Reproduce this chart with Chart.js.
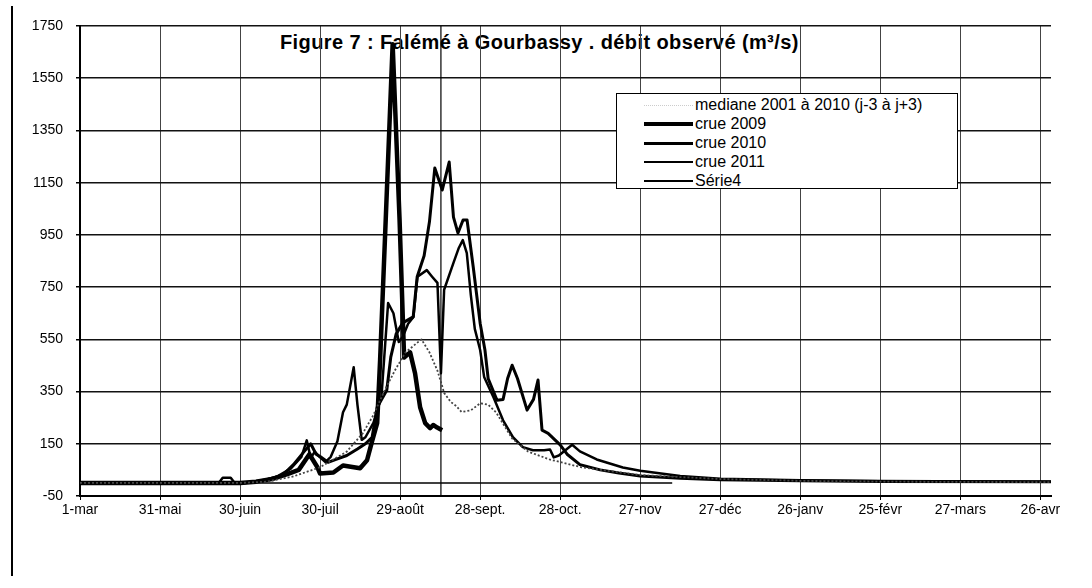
<!DOCTYPE html>
<html lang="fr">

<head>
    <meta charset="UTF-8">
    <title>Figure 7 : Falémé à Gourbassy</title>
    <script src="https://cdn.jsdelivr.net/npm/chart.js"></script>
    <style>
        body { margin: 0; background: #fff; }
        .janela { position: relative; width: 1092px; height: 588px; overflow: hidden; font-family: "Liberation Sans", Arial, sans-serif; }
        .borda { position: absolute; left: 11px; top: 6px; width: 2px; height: 570px; background: #000; }
        #titre { position: absolute; left: 280px; top: 32px; font-size: 20px; line-height: 20px; letter-spacing: 0.4px; font-weight: bold; white-space: nowrap; z-index: 0; }
        #grafico { position: absolute; left: 0; top: 0; z-index: 1; }
        .legende { position: absolute; left: 616px; top: 93px; width: 340px; height: 94px; border: 1.5px solid #000; background: #fff; z-index: 2; }
        .ligne { position: absolute; left: 0; height: 18px; display: flex; align-items: center; font-size: 16px; white-space: nowrap; }
        .trait { display: inline-block; width: 49px; margin-left: 27px; margin-right: 2px; border-top-style: solid; border-top-color: #000; }
    </style>
</head>

<body>
    <div class="janela">
        <div class="borda"></div>
        <div id="titre">Figure 7 : Falémé à Gourbassy . débit observé (m³/s)</div>
        <canvas id="grafico" width="1092" height="588"></canvas>

        <div class="legende">
            <div class="ligne" style="top:2px"><span class="trait" style="border-top:1px dotted #ccc"></span>mediane 2001 à 2010 (j-3 à j+3)</div>
            <div class="ligne" style="top:21px"><span class="trait" style="border-top-width:4px"></span>crue 2009</div>
            <div class="ligne" style="top:40px"><span class="trait" style="border-top-width:3px"></span>crue 2010</div>
            <div class="ligne" style="top:59px"><span class="trait" style="border-top-width:2px"></span>crue 2011</div>
            <div class="ligne" style="top:78px"><span class="trait" style="border-top-width:2.5px"></span>Série4</div>
        </div>
    </div>
</body>

<script>
    // eixo x: dias a partir do 1-mar, um rotulo a cada 30 dias
    const etiquettesX = ['1-mar', '31-mai', '30-juin', '30-juil', '29-août', '28-sept.', '28-oct.', '27-nov', '27-déc', '26-janv', '25-févr', '27-mars', '26-avr'];
    const graduationsY = [-50, 150, 350, 550, 750, 950, 1150, 1350, 1550, 1750];

    // mediane 2001 a 2010
    const joursMediane = [0, 60, 70, 80, 90, 100, 106, 110, 114, 118, 122, 128, 131, 134, 135.5, 136.5, 139, 141, 143, 146.5, 150, 153, 156, 159, 162, 168, 176, 188, 210, 240, 270, 300, 364];
    const debitMediane = [0, 0, 5, 25, 60, 120, 190, 260, 350, 430, 500, 550, 500, 430, 380, 345, 310, 295, 272, 278, 305, 300, 270, 220, 170, 120, 90, 60, 30, 15, 8, 5, 3];

    // crue 2009 (trait epais, s'arrete au trait vertical)
    const jours2009 = [0, 60, 66, 72, 78, 82, 86, 89, 90, 95, 98.6, 105, 107.6, 109.5, 111.4, 112.5, 114.6, 117.2, 119.8, 121.5, 123.75, 125.6, 127.5, 129.4, 131.25, 132.4, 133.9, 135.75];
    const debit2009 = [0, 0, 5, 15, 35, 50, 110, 60, 36, 40, 67, 56, 87, 160, 229, 470, 1007, 1680, 1007, 480, 500, 420, 290, 229, 210, 222, 212, 202];

    // crue 2010
    const jours2010 = [0, 60, 64, 70, 76, 80, 84, 86.5, 88.5, 90.5, 93, 96, 100, 104, 107, 109.5, 111.4, 115, 116.5, 118.5, 121, 124.9, 126.4, 129, 131, 133, 135.8, 138.4, 140, 141.7, 143.6, 145.1, 147.4, 150, 151.8, 153, 156.3, 158.6, 160.3, 162, 164, 167.6, 170, 171.7, 173.2, 175.5, 180, 182.6, 187.4, 195, 202, 210, 225, 240, 270, 300, 364];
    const debit2010 = [0, 0, 3, 12, 30, 70, 120, 150, 110, 98, 79, 90, 105, 130, 150, 175, 290, 355, 482, 570, 613, 636, 790, 870, 1000, 1206, 1122, 1229, 1018, 957, 1007, 1007, 828, 612, 509, 400, 317, 320, 400, 451, 400, 279, 320, 394, 202, 190, 146, 110, 70, 50, 38, 27, 18, 12, 8, 6, 5];

    // crue 2011
    const jours2011 = [0, 52, 53.5, 56.5, 58, 62, 68, 74, 79, 83, 85, 86.5, 88, 90, 92, 94, 96.5, 98.6, 100, 102.6, 104, 105.6, 107, 110, 113, 115.5, 117.5, 119.5, 121, 123, 125, 126.5, 130, 132, 134, 135.3, 136.5, 140, 142, 143.5, 145, 146.5, 148, 150, 151.5, 155, 158.6, 162.3, 166, 169.8, 174, 176.2, 177.6, 179.5, 184.5, 187.4, 193.7, 203.5, 210, 225, 240, 270, 300, 364];
    const debit2011 = [0, 0, 20, 20, 0, 0, 8, 25, 55, 100, 163, 95, 120, 98, 80, 100, 160, 271, 300, 443, 300, 165, 175, 230, 330, 689, 650, 540, 560, 610, 636, 790, 815, 790, 766, 420, 740, 843, 900, 930, 880, 720, 590, 509, 406, 328, 240, 175, 137, 125, 125, 128, 98, 105, 146, 121, 90, 59, 47, 27, 16, 10, 7, 5];

    // Serie4: trait vertical (date du jour) + ligne de base a zero
    const joursSerie4 = [135.3, 135.3];
    const debitSerie4 = [-50, 1750];
    const joursBase = [0, 222];
    const debitBase = [0, 0];

    function pares(jours, debits) {
        var pts = [];
        for (var i = 0; i < jours.length; i++) {
            pts.push({ x: jours[i], y: debits[i] });
        }
        return pts;
    }

    const fonte = { family: 'Liberation Sans', size: 14 };

    let dados = {
        datasets: [
            { label: 'mediane 2001 à 2010 (j-3 à j+3)', data: pares(joursMediane, debitMediane), borderColor: '#444', borderWidth: 1.8, borderDash: [2, 2] },
            { label: 'base', data: pares(joursBase, debitBase), borderColor: '#000', borderWidth: 1.5 },
            { label: 'Série4', data: pares(joursSerie4, debitSerie4), borderColor: '#000', borderWidth: 1.2 },
            { label: 'crue 2011', data: pares(jours2011, debit2011), borderColor: '#000', borderWidth: 2.5 },
            { label: 'crue 2010', data: pares(jours2010, debit2010), borderColor: '#000', borderWidth: 3 },
            { label: 'crue 2009', data: pares(jours2009, debit2009), borderColor: '#000', borderWidth: 4.5 }
        ]
    };

    const config = {
        type: 'line',
        data: dados,
        options: {
            responsive: false,
            animation: false,
            layout: { padding: { left: 10, right: 41, top: 26, bottom: 0 } },
            elements: { point: { radius: 0 }, line: { tension: 0, borderJoinStyle: 'round' } },
            plugins: { legend: { display: false }, title: { display: false }, tooltip: { enabled: false } },
            scales: {
                x: {
                    type: 'linear', min: 0, max: 364,
                    afterBuildTicks: s => { s.ticks = etiquettesX.map((t, i) => ({ value: i * 30 })); },
                    afterFit: s => { s.height = 92; },
                    ticks: { callback: (v, i) => etiquettesX[i], color: '#000', font: fonte, padding: 2, maxRotation: 0, autoSkip: false },
                    grid: { color: '#444', lineWidth: 1, tickLength: 4, tickColor: '#000' },
                    border: { color: '#000', width: 2 }
                },
                y: {
                    min: -50, max: 1750,
                    afterBuildTicks: s => { s.ticks = graduationsY.map(v => ({ value: v })); },
                    afterFit: s => { s.width = 70; },
                    ticks: { callback: v => String(v), color: '#000', font: fonte, padding: 13 },
                    grid: { color: '#111', lineWidth: 1.5, tickLength: 4, tickColor: '#000' },
                    border: { color: '#000', width: 2 }
                }
            }
        }
    };

    let grafico = new Chart(document.getElementById('grafico'), config);
</script>

</html>
